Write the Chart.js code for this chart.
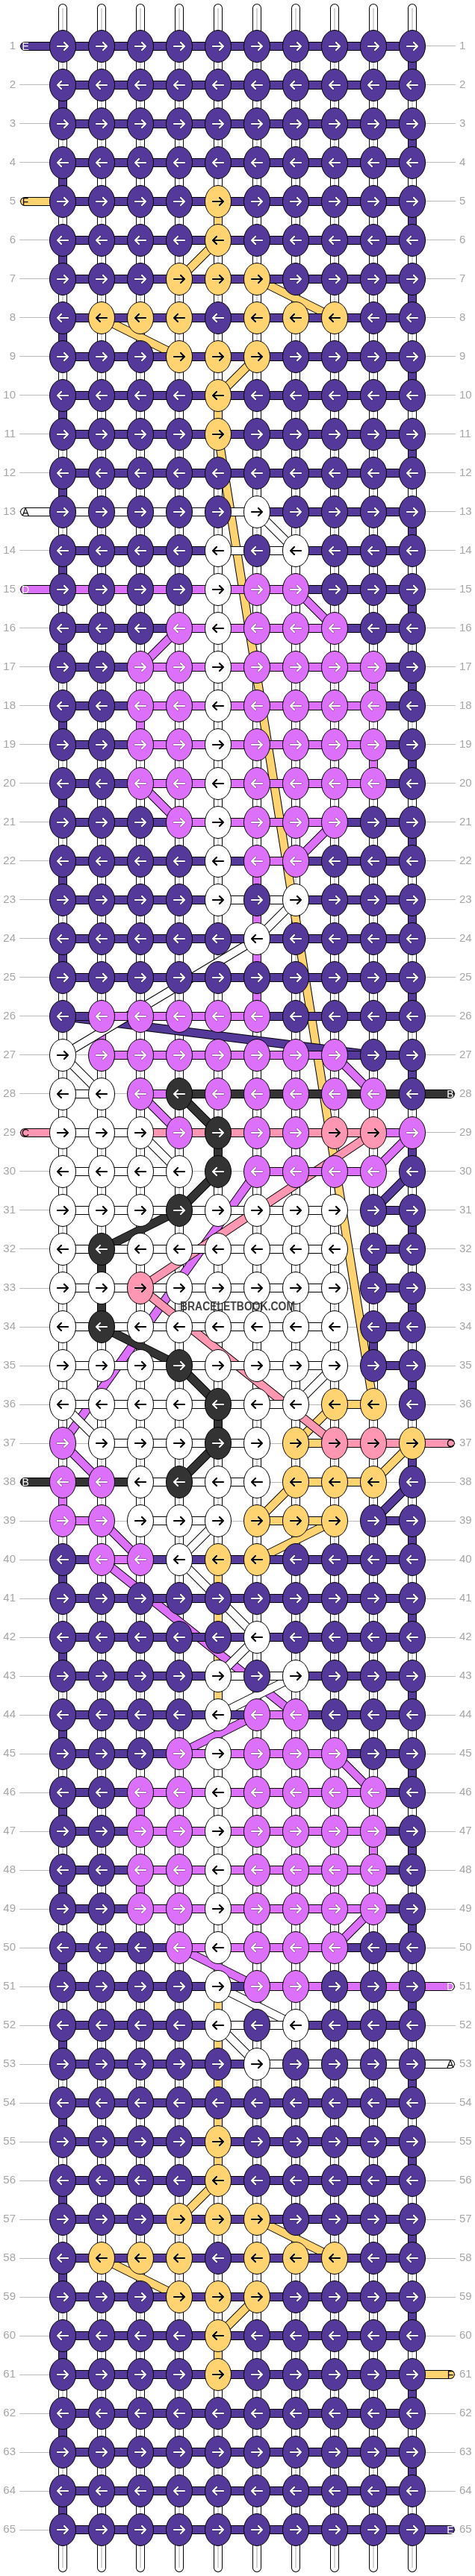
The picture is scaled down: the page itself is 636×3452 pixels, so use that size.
<!DOCTYPE html>
<html>
<head>
<meta charset="utf-8">
<title>Bracelet pattern</title>
<script src="https://cdn.jsdelivr.net/npm/chart.js@4"></script>
<style>
  html, body { margin: 0; padding: 0; background: #fff; overflow: hidden; }
  canvas { display: block; }
</style>
</head>
<body>
<canvas id="pattern" width="636" height="3452"></canvas>
<script>
// Row numbers on both sides
const rowLabels = [];
for (let r = 1; r <= 65; r++) rowLabels.push(r);

// Knot colour per row, one letter per column
const knotRows = [
  "EEEEEEEEEE", "EEEEEEEEEE", "EEEEEEEEEE", "EEEEEEEEEE", "EEEEFEEEEE",
  "EEEEFEEEEE", "EEEFFFEEEE", "EFFFEFFFEE", "EEEFFFEEEE", "EEEEFEEEEE",
  "EEEEFEEEEE", "EEEEEEEEEE", "EEEEEAEEEE", "EEEEAEAEEE", "EEEEADDEEE",
  "EEEDADDDEE", "EEDDADDDDE", "EEDDADDDDE", "EEDDADDDDE", "EEDDADDDDE",
  "EEEDADDDEE", "EEEEADDEEE", "EEEEAEAEEE", "EEEEEAEEEE", "EEEEEEEEEE",
  "EDDDDDEEEE", "ADDDDDDDEE", "AADBDDDDDE", "AAADBDDCCD", "AAAABDDDDE",
  "AAABAAAAEE", "ABAAAAAAEE", "AACAAAAAEE", "ABAAAAAAEE", "AAABAAAAEE",
  "AAAABAAFFE", "DAAABAFCCF", "DDABAAFFFE", "DDAAAFFFEE", "EDDAFFEEEE",
  "EEEEEEEEEE", "EEEEEAEEEE", "EEEEAEAEEE", "EEEEADDEEE", "EEEDADDDEE",
  "EEDDADDDDE", "EEDDADDDDE", "EEDDADDDDE", "EEDDADDDDE", "EEEDADDDEE",
  "EEEEADDEEE", "EEEEAEAEEE", "EEEEEAEEEE", "EEEEEEEEEE", "EEEEFEEEEE",
  "EEEEFEEEEE", "EEEFFFEEEE", "EFFFEFFFEE", "EEEFFFEEEE", "EEEEFEEEEE",
  "EEEEFEEEEE", "EEEEEEEEEE", "EEEEEEEEEE", "EEEEEEEEEE", "EEEEEEEEEE"
];

// Horizontal strand colour between neighbouring knots, "." = nothing there
const gapRows = [
  "EEEEEEEEE", "EEEEEEEEE", "EEEEEEEEE", "EEEEEEEEE", "EEEEEEEEE",
  "EEEEEEEEE", "EEEEEEEEE", "EEEEEEEEE", "EEEEEEEEE", "EEEEEEEEE",
  "EEEEEEEEE", "EEEEEEEEE", "AAAAAEEEE", "EEEEAAEEE", "DDDDDDEEE",
  "EEEDDDDEE", "EEDDDDDDE", "EEDDDDDDE", "EEDDDDDDE", "EEDDDDDDE",
  "EEEDDDDEE", "EEEEEDEEE", "EEEEAAEEE", "EEEEEEEEE", "EEEEEEEEE",
  "EDDDDEEEE", ".DDDDDDEE", "A.DBBBBBB", "AACCCCCCD", "AAA..DDD.",
  "AAAAAAA.E", "AAAAAAA.E", "AAAAAAA.E", "AAAAAAA.E", "AAAAAAA.E",
  "AAAAAA.F.", ".AAAA.FCC", "BBAAA.FF.", "D.AA.FF.E", "EDEEEEEEE",
  "EEEEEEEEE", "EEEEEEEEE", "EEEEAAEEE", "EEEEEDEEE", "EEEDDDDEE",
  "EEDDDDDDE", "EEDDDDDDE", "EEDDDDDDE", "EEDDDDDDE", "EEEDDDDEE",
  "EEEEEDDDD", "EEEEAAEEE", "EEEEEAAAA", "EEEEEEEEE", "EEEEEEEEE",
  "EEEEEEEEE", "EEEEEEEEE", "EEEEEEEEE", "EEEEEEEEE", "EEEEEEEEE",
  "EEEEEEEEE", "EEEEEEEEE", "EEEEEEEEE", "EEEEEEEEE", "EEEEEEEEE"
];

// Loose ends: [row, strand letter]
const leftEnds = [[1, "E"], [5, "F"], [13, "A"], [15, "D"], [29, "C"], [38, "B"]];
const rightEnds = [[28, "B"], [37, "C"], [51, "D"], [53, "A"], [61, "F"], [65, "E"]];

// Coloured vertical pieces: [column, row the piece starts at]
const verticalsE = [
  [0, 2], [0, 4], [0, 6], [0, 8], [0, 10], [0, 12], [0, 14], [0, 16], [0, 18], [0, 20], [0, 22], [0, 24],
  [0, 40], [0, 42], [0, 44], [0, 46], [0, 48], [0, 50], [0, 52], [0, 54], [0, 56], [0, 58], [0, 60], [0, 62], [0, 64],
  [9, 1], [9, 3], [9, 5], [9, 7], [9, 9], [9, 11], [9, 13], [9, 15], [9, 17], [9, 19], [9, 21], [9, 23], [9, 25],
  [9, 27], [9, 29], [9, 31], [9, 33], [9, 35], [9, 37], [9, 39], [9, 41], [9, 43], [9, 45], [9, 47], [9, 49],
  [9, 51], [9, 53], [9, 55], [9, 57], [9, 59], [9, 61], [9, 63], [8, 32], [8, 34]
];
const verticalsD = [[5, 22], [5, 23], [5, 24], [5, 25], [1, 26], [2, 18], [2, 46], [2, 48], [8, 17], [8, 19], [8, 47], [0, 38]];
const verticalsF = [[4, 5], [4, 10], [4, 40], [4, 41], [4, 42], [4, 43], [4, 51], [4, 52], [4, 53], [4, 54], [4, 55], [4, 60]];
const verticalsB = [[4, 29], [4, 36], [1, 32], [1, 33]];

// Slanted strands: [row, column, row, column]
const diagonalsF = [
  [6, 4, 7, 3], [7, 5, 8, 7], [8, 1, 9, 3], [9, 5, 10, 4], [11, 4, 36, 8], [36, 7, 37, 6], [37, 9, 38, 8],
  [38, 6, 39, 5], [39, 7, 40, 5], [56, 4, 57, 3], [57, 5, 58, 7], [58, 1, 59, 3], [59, 5, 60, 4]
];
const diagonalsD = [
  [15, 6, 16, 7], [16, 3, 17, 2], [20, 2, 21, 3], [21, 7, 22, 6], [27, 7, 28, 8], [28, 2, 29, 3], [29, 9, 30, 8],
  [30, 5, 37, 0], [37, 0, 38, 1], [39, 1, 40, 2], [40, 1, 44, 6], [44, 5, 45, 3], [45, 7, 46, 8], [49, 8, 50, 7], [50, 3, 51, 5]
];
const diagonalsE = [[26, 0, 27, 8], [30, 9, 31, 8], [38, 9, 39, 8]];
const diagonalsC = [[29, 8, 33, 2], [33, 2, 37, 7]];
const diagonalsB = [[28, 3, 29, 4], [30, 4, 31, 3], [31, 3, 32, 1], [34, 1, 35, 3], [35, 3, 36, 4], [37, 4, 38, 3]];
const diagonalsA = [
  [13, 5, 14, 6], [23, 6, 24, 5], [24, 5, 27, 0], [27, 0, 28, 1], [29, 2, 30, 3], [35, 7, 36, 6], [36, 0, 37, 1],
  [39, 4, 40, 3], [40, 3, 42, 5], [42, 5, 43, 4], [43, 6, 44, 4], [51, 4, 52, 6], [52, 4, 53, 5]
];

const colours = { A: "#ffffff", B: "#333333", C: "#ff97b3", D: "#dd70fb", E: "#54389a", F: "#ffd470" };
const inkColours = { A: "#000000", B: "#ffffff", C: "#000000", D: "#ffffff", E: "#ffffff", F: "#000000" };

const datasets = [];
let layer = 5000;

// Turn [[x,y,x,y],...] into one line with breaks between the pieces
function toPoints(pieces) {
  const pts = [];
  pieces.forEach(p => {
    pts.push({ x: p[0], y: p[1] }, { x: p[2], y: p[3] }, { x: NaN, y: NaN });
  });
  return pts;
}

function addLine(pieces, colour, width, cap) {
  datasets.push({
    type: "scatter",
    showLine: true,
    data: toPoints(pieces),
    borderColor: colour,
    borderWidth: width,
    borderCapStyle: cap || "butt",
    pointRadius: 0,
    clip: false,
    order: layer--
  });
}

// Strand = black outline with the colour on top
function addStrand(pieces, letter, cap) {
  if (!pieces.length) return;
  addLine(pieces, "#000000", 12, cap);
  addLine(pieces, colours[letter], 10, cap);
}

function diagPieces(list) {
  return list.map(d => [d[1], d[0], d[3], d[2]]);
}

function vertPieces(list) {
  return list.map(v => [v[0], v[1], v[0], v[1] + 1]);
}

// Vertical strands: everything not coloured stays white with a grey middle
const coloured = {};
verticalsE.concat(verticalsD, verticalsF, verticalsB).forEach(v => coloured[v[0] + "_" + v[1]] = true);
const whitePieces = [];
for (let c = 0; c < 10; c++) {
  for (let r = 1; r < 65; r++) {
    if (!coloured[c + "_" + r]) whitePieces.push([c, r, c, r + 1]);
  }
}
const topStubs = [];
const bottomStubs = [];
for (let c = 0; c < 10; c++) {
  topStubs.push([c, 1, c, 0.02]);
  bottomStubs.push([c, 65, c, 65.98]);
}
addStrand(topStubs.concat(bottomStubs), "A", "round");
addLine(topStubs.concat(bottomStubs), "#d4d4d4", 2);
addStrand(whitePieces, "A");
addLine(whitePieces, "#d4d4d4", 2);
addStrand(vertPieces(verticalsE), "E");
addStrand(vertPieces(verticalsD), "D");
addStrand(vertPieces(verticalsF), "F");
addStrand(vertPieces(verticalsB), "B");

// Slanted strands, lowest first
addStrand(diagPieces(diagonalsF), "F");
addStrand(diagPieces(diagonalsD), "D");
addStrand(diagPieces(diagonalsE), "E");
addStrand(diagPieces(diagonalsC), "C");
addStrand(diagPieces(diagonalsB), "B");
addStrand(diagPieces(diagonalsA), "A");

// Horizontal strands and loose ends
Object.keys(colours).forEach(letter => {
  const pieces = [];
  gapRows.forEach((gaps, r) => {
    for (let c = 0; c < gaps.length; c++) {
      if (gaps[c] === letter) pieces.push([c, r + 1, c + 1, r + 1]);
    }
  });
  addStrand(pieces, letter);
  const ends = [];
  leftEnds.forEach(e => { if (e[1] === letter) ends.push([0, e[0], -0.98, e[0]]); });
  rightEnds.forEach(e => { if (e[1] === letter) ends.push([9, e[0], 9.98, e[0]]); });
  addStrand(ends, letter, "round");
});

// Knot picture with its arrow, used as the point style
function knotImage(letter, toRight) {
  const img = document.createElement("canvas");
  img.width = 38;
  img.height = 46;
  const g = img.getContext("2d");
  g.translate(19, 23);
  g.beginPath();
  g.ellipse(0, 0, 17.5, 21.5, 0, 0, Math.PI * 2);
  g.fillStyle = colours[letter];
  g.fill();
  g.strokeStyle = "#000000";
  g.lineWidth = 1;
  g.stroke();
  const dir = toRight ? 1 : -1;
  const arrow = () => {
    g.beginPath();
    g.moveTo(-7 * dir, 0);
    g.lineTo(7 * dir, 0);
    g.moveTo(2 * dir, -5);
    g.lineTo(7 * dir, 0);
    g.lineTo(2 * dir, 5);
    g.stroke();
  };
  g.lineCap = "round";
  g.lineJoin = "round";
  g.strokeStyle = inkColours[letter] === "#ffffff" ? "rgba(0,0,0,0.3)" : "rgba(255,255,255,0.35)";
  g.lineWidth = 3.4;
  arrow();
  g.strokeStyle = inkColours[letter];
  g.lineWidth = 2.2;
  arrow();
  return img;
}

Object.keys(colours).forEach(letter => {
  [true, false].forEach(toRight => {
    const pts = [];
    knotRows.forEach((knots, r) => {
      if (((r + 1) % 2 === 1) !== toRight) return;
      for (let c = 0; c < knots.length; c++) {
        if (knots[c] === letter) pts.push({ x: c, y: r + 1 });
      }
    });
    if (!pts.length) return;
    datasets.push({
      type: "scatter",
      data: pts,
      showLine: false,
      pointStyle: knotImage(letter, toRight),
      pointRadius: 18,
      clip: false,
      order: 10
    });
  });
});

// Letters on the loose ends and the site name on top
const textPlugin = {
  id: "patternText",
  afterDatasetsDraw(chart) {
    const ctx = chart.ctx;
    const x = chart.scales.x;
    const y = chart.scales.y;
    ctx.save();
    ctx.textAlign = "center";
    ctx.textBaseline = "middle";
    ctx.font = '14px "Liberation Sans"';
    leftEnds.forEach(e => {
      ctx.fillStyle = inkColours[e[1]];
      ctx.fillText(e[1], x.getPixelForValue(-0.96), y.getPixelForValue(e[0]) + 1);
    });
    rightEnds.forEach(e => {
      ctx.fillStyle = inkColours[e[1]];
      ctx.fillText(e[1], x.getPixelForValue(9.98), y.getPixelForValue(e[0]) + 1);
    });
    ctx.font = 'bold 16px "Liberation Sans"';
    ctx.fillStyle = "rgba(45,45,45,0.9)";
    ctx.fillText("BRACELETBOOK.COM", x.getPixelForValue(4.5), y.getPixelForValue(33.5), 154);
    ctx.restore();
  }
};

function rowAxis(position, showGrid) {
  return {
    type: "linear",
    position: position,
    reverse: true,
    min: -0.1923,
    max: 66.1923,
    afterBuildTicks: s => { s.ticks = rowLabels.map(v => ({ value: v })); },
    afterFit: s => { s.width = 26; s.paddingTop = 0; s.paddingBottom = 0; },
    border: { display: false },
    grid: { display: showGrid, color: "#bbbbbb", lineWidth: 1, drawTicks: false },
    ticks: {
      autoSkip: false,
      padding: 5,
      color: "#a6a6a6",
      font: { family: '"Liberation Sans"', size: 15 },
      callback: v => String(v)
    }
  };
}

new Chart(document.getElementById("pattern").getContext("2d"), {
  type: "scatter",
  data: { datasets: datasets },
  plugins: [textPlugin],
  options: {
    responsive: false,
    animation: false,
    devicePixelRatio: 1,
    events: [],
    layout: { padding: 0, autoPadding: false },
    plugins: { legend: { display: false }, tooltip: { enabled: false } },
    scales: {
      x: {
        type: "linear",
        display: false,
        bounds: "data",
        // set here and not as min/max, the line pieces have gaps in them
        afterDataLimits: s => { s.min = -1.1154; s.max = 10.1154; }
      },
      y: rowAxis("left", true),
      yRight: rowAxis("right", false)
    }
  }
});
</script>
</body>
</html>
